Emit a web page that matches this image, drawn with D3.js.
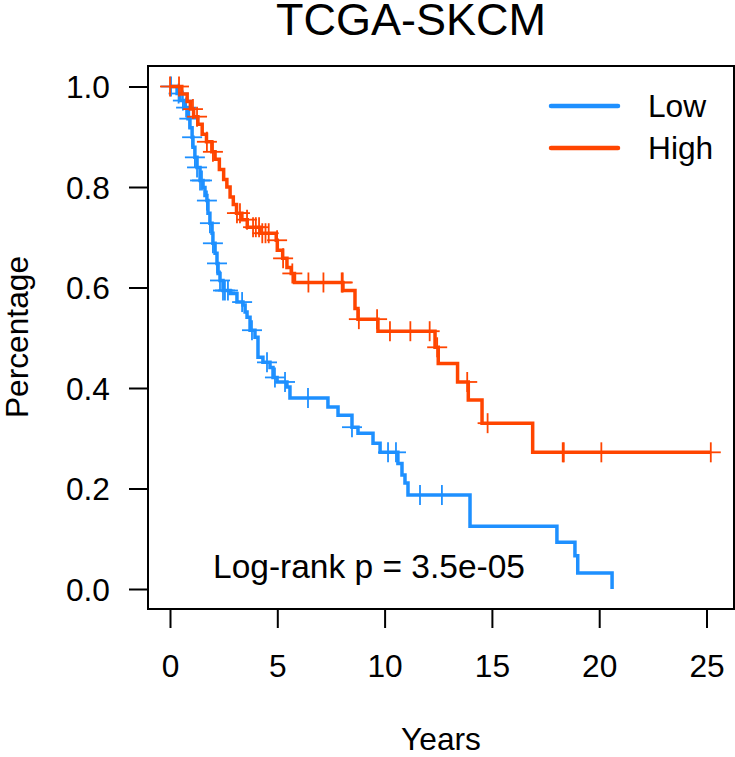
<!DOCTYPE html>
<html>
<head>
<meta charset="utf-8">
<script src="https://cdn.jsdelivr.net/npm/d3@7"></script>
<style>
  body { margin: 0; background: #fff; }
  svg { display: block; font-family: "Liberation Sans", Arial, sans-serif; }
</style>
</head>
<body>
<div id="vis"></div>
<script>
const WIDTH = 735;
const HEIGHT = 757;

// Kaplan-Meier steps: [years, survival]
const lowSteps = [[0, 1], [0.33, .986], [0.47, .972], [0.7, .958], [0.84, .936], [0.93, .918], [1.03, .899],
    [1.07, .879], [1.16, .859], [1.26, .839], [1.4, .813], [1.54, .799], [1.63, .783], [1.72, .773],
    [1.77, .748], [1.86, .728], [1.96, .708], [2.0, .688], [2.1, .668], [2.19, .648], [2.24, .628],
    [2.33, .614], [2.47, .594], [2.8, .588], [3.12, .571], [3.4, .565], [3.5, .551], [3.59, .541],
    [3.73, .515], [3.96, .501], [4.1, .461], [4.33, .451], [4.66, .441], [4.8, .421], [4.99, .412],
    [5.45, .402], [5.59, .38], [7.36, .362], [7.83, .346], [8.48, .322], [8.76, .31], [9.46, .29],
    [9.79, .272], [10.62, .25], [10.81, .227], [10.95, .211], [11.09, .187], [13.98, .125],
    [18.03, .093], [18.87, .066], [19.0, .032], [20.6, 0]];
const lowCensor = [0.05, 0.4, 0.6, 0.75, 0.9, 1.03, 1.16, 1.26, 1.4, 1.49, 1.72, 1.86, 2.0, 2.19, 2.33,
    2.47, 2.56, 2.7, 3.36, 3.82, 4.52, 4.89, 5.36, 6.43, 8.48, 10.16, 10.53, 11.65, 12.67];

const highSteps = [[0, 1], [0.55, .985], [0.8, .97], [0.95, .955], [1.1, .94], [1.3, .925], [1.5, .905],
    [1.7, .89], [1.95, .87], [2.1, .855], [2.3, .835], [2.5, .815], [2.65, .80], [2.8, .78],
    [2.95, .765], [3.1, .748], [3.35, .735], [3.6, .72], [4.2, .708], [4.95, .694], [5.0, .674],
    [5.25, .658], [5.45, .64], [5.65, .628], [5.8, .61], [8.06, .594], [8.62, .558], [8.76, .537],
    [9.69, .513], [12.35, .481], [12.5, .449], [13.4, .412], [13.9, .376], [14.54, .33],
    [16.9, .272], [25.2, .272]];
const highCensor = [0.0, 0.42, 1.07, 1.26, 1.72, 2.0, 3.12, 3.26, 3.59, 3.87, 4.0, 4.15, 4.3, 4.45, 4.6,
    4.99, 5.27, 5.7, 6.45, 7.15, 8.0, 8.05, 8.8, 9.65, 10.25, 11.2, 12.1, 12.45, 13.85, 14.8,
    18.3, 18.35, 20.1, 25.2];

const groups = ["Low", "High"];
const colors = ["#1E90FF", "#FF4500"];
const xTicks = [0, 5, 10, 15, 20, 25];
const yTicks = [0, 0.2, 0.4, 0.6, 0.8, 1.0];

const box = {left: 148, right: 734, top: 66, bottom: 609};

const svg = d3.select("#vis").append("svg").attr("width", WIDTH).attr("height", HEIGHT);

const x = d3.scaleLinear().domain([0, 25]).range([170, 706.5]);
const y = d3.scaleLinear().domain([0, 1]).range([589, 86.5]);

// curves
const line = d3.line().x(d => x(d[0])).y(d => y(d[1])).curve(d3.curveStepAfter);

function survAt(steps, t) {
    let s = 1;
    steps.forEach(d => { if (d[0] <= t) s = d[1]; });
    return s;
}

const series = [
    {steps: lowSteps, censor: lowCensor, color: colors[0]},
    {steps: highSteps, censor: highCensor, color: colors[1]}
];

series.forEach(sr => {
    svg.append("path")
        .attr("d", line(sr.steps))
        .attr("fill", "none")
        .attr("stroke", sr.color)
        .attr("stroke-width", 3.5);

    const g = svg.append("g");
    sr.censor.forEach(t => {
        const cx = x(t), cy = y(survAt(sr.steps, t));
        g.append("line").attr("x1", cx - 10).attr("x2", cx + 10).attr("y1", cy).attr("y2", cy)
            .attr("stroke", sr.color).attr("stroke-width", 1.8);
        g.append("line").attr("x1", cx).attr("x2", cx).attr("y1", cy - 10).attr("y2", cy + 10)
            .attr("stroke", sr.color).attr("stroke-width", 1.8);
    });
});

// box
svg.append("rect")
    .attr("x", box.left).attr("y", box.top)
    .attr("width", box.right - box.left).attr("height", box.bottom - box.top)
    .attr("fill", "none").attr("stroke", "#000").attr("stroke-width", 2);

// axes
const xAxis = svg.append("g")
    .attr("transform", `translate(0,${box.bottom})`)
    .call(d3.axisBottom(x).tickValues(xTicks).tickSize(19).tickPadding(0).tickFormat(d3.format("d")));
xAxis.select(".domain").remove();
xAxis.selectAll("line").attr("stroke", "#000").attr("stroke-width", 2);
xAxis.selectAll("text").attr("y", 68).attr("dy", null).attr("fill", "#000")
    .style("font-size", "31.7px").style("font-family", "Liberation Sans, Arial, sans-serif");

const yAxis = svg.append("g")
    .attr("transform", `translate(${box.left},0)`)
    .call(d3.axisLeft(y).tickValues(yTicks).tickSize(19).tickPadding(19).tickFormat(d3.format(".1f")));
yAxis.select(".domain").remove();
yAxis.selectAll("line").attr("stroke", "#000").attr("stroke-width", 2);
yAxis.selectAll("text").attr("fill", "#000").attr("dy", "0.35em")
    .style("font-size", "31.7px").style("font-family", "Liberation Sans, Arial, sans-serif");

// titles
svg.append("text").attr("x", 411).attr("y", 35).attr("text-anchor", "middle")
    .style("font-size", "45px").text("TCGA-SKCM");
svg.append("text").attr("x", 441).attr("y", 750).attr("text-anchor", "middle")
    .style("font-size", "31.7px").text("Years");
svg.append("text").attr("transform", "translate(28,337) rotate(-90)").attr("text-anchor", "middle")
    .style("font-size", "31.7px").text("Percentage");

svg.append("text").attr("x", 369).attr("y", 578).attr("text-anchor", "middle")
    .style("font-size", "33.5px").text("Log-rank p = 3.5e-05");

// legend
const legendY = [106, 148];
groups.forEach((gname, i) => {
    svg.append("line").attr("x1", 551).attr("x2", 618).attr("y1", legendY[i]).attr("y2", legendY[i])
        .attr("stroke", colors[i]).attr("stroke-width", 4.5).attr("stroke-linecap", "round");
    svg.append("text").attr("x", 648).attr("y", legendY[i]).attr("dy", "0.35em")
        .style("font-size", "31.7px").text(gname);
});
</script>
</body>
</html>
